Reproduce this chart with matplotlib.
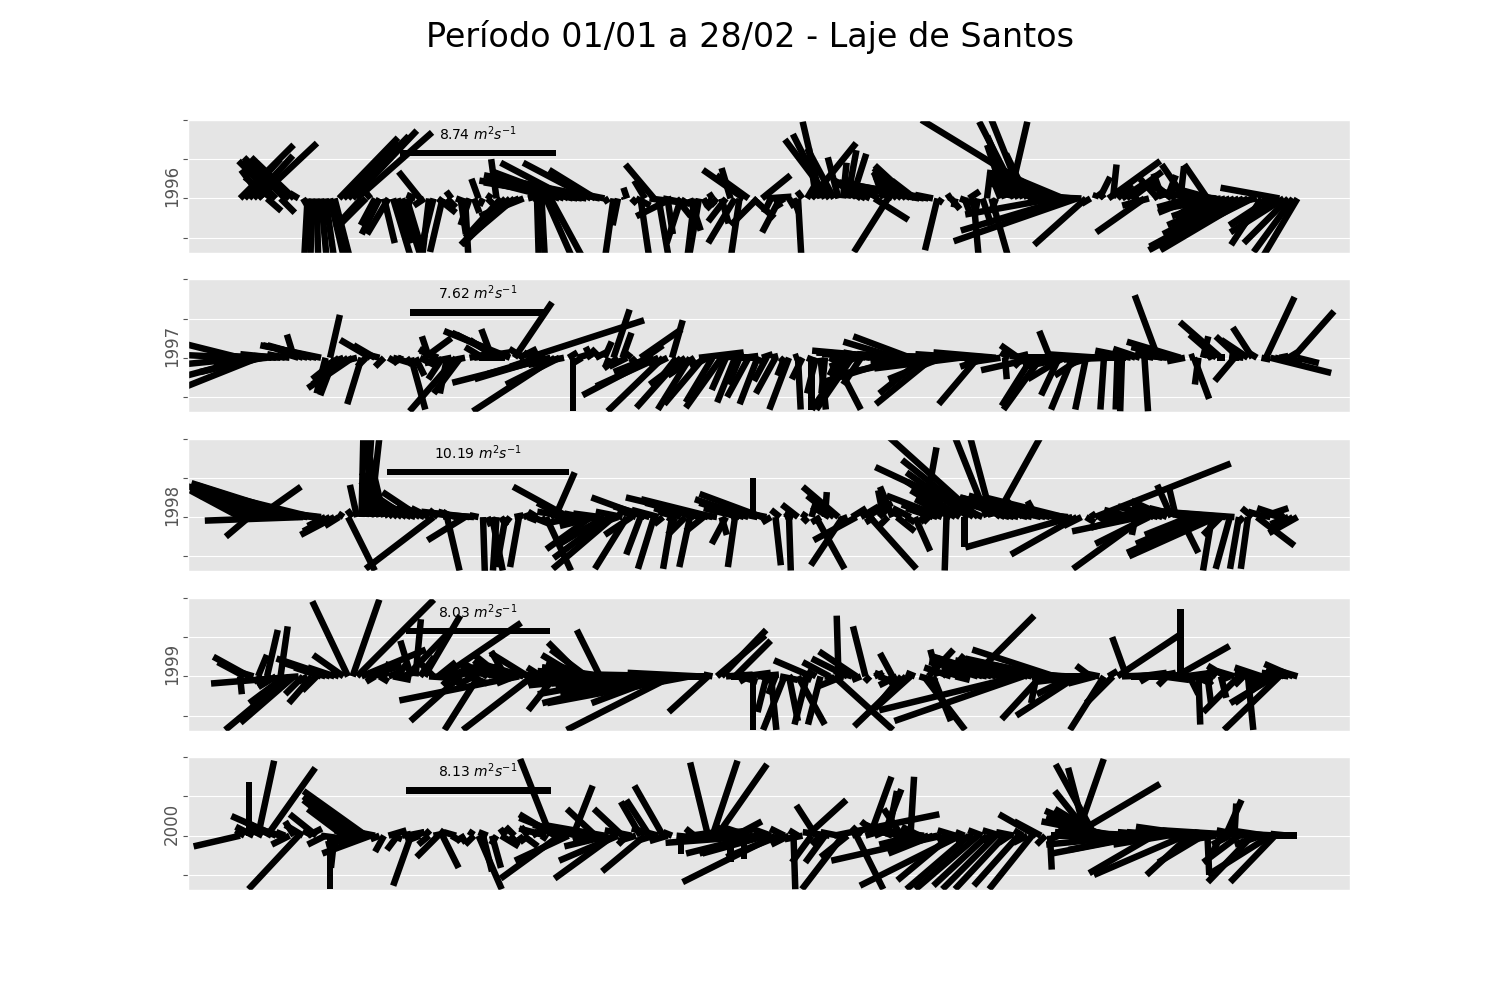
import numpy as np
import matplotlib.pyplot as plt

plt.style.use('ggplot')

years = ['1996', '1997', '1998', '1999', '2000']
key_values = [8.74, 7.62, 10.19, 8.03, 8.13]  # m2 s-1, shown in each key

# 6-hourly stick components, one row = one day (00, 06, 12, 18 h)
u_1996 = [3.0, 2.0, 1.0, 2.2, 3.3, -1.2, 0.8, -1.5, -2.1, 0.8, -2.3, -2.6,
          -2.4, -0.5, 0.3, -0.2, -0.1, 0.1, 0.3, 0.5, 0.8, 0.9, 3.3, 3.1,
          3.4, 3.6, 4.2, -1.2, -1.7, -0.4, -0.8, -1.0, 0.6, -1.2, 1.0, 0.8,
          1.1, 0.9, -0.4, -0.5, -1.2, -0.6, -0.4, -0.8, 1.0, -0.7, 0.5, -0.3,
          0.8, 0.3, 0.2, -0.5, 0.3, -0.4, -0.2, 0.3, -0.3, -0.3, -2.0, -2.5,
          -2.7, -2.6, -2.2, -1.5, 0.8, 1.5, 0.1, 0.2, 1.5, 1.9, -3.5, -3.8,
          -4.0, -3.8, -4.5, -5.0, -5.5, -6.0, -3.8, -2.6, -6.5, -1.5, -0.3, -0.5,
          -0.3, 0.1, -0.2, 0.3, 0.8, 0.5, -0.6, 1.6, -1.6, 0.6, 1.5, 0.3,
          -2.0, 0.8, -0.8, -0.3, 0.6, -0.4, -0.6, 0.2, 0.4, -0.2, -0.6, 0.4,
          -1.0, -0.5, -1.5, -0.5, -2.3, -1.8, 1.2, -1.5, 1.6, 1.4, -0.4, 0.3,
          -1.0, -0.5, 0.3, 0.3, 0.2, -0.3, 0.6, 2.5, -0.4, -1.0, -1.8, -2.5,
          -1.5, -0.6, 0.2, 0.5, 0.8, -0.3, -1.0, -1.5, -2.0, 1.9, -1.5, -0.5,
          -1.9, -1.0, -1.2, -1.6, -1.8, -2.0, -1.3, -3.5, -4.2, -5.0, -1.0, -0.7,
          -0.2, 0.3, 0.5, -0.1, 0.8, 0.3, 0.6, 0.3, -0.2, 0.5, 0.2, 1.0,
          -0.3, -0.6, -1.0, 1.0, -1.5, -2.2, -1.8, -1.2, -2.0, -2.5, -3.0, -2.4,
          -7.2, -5.0, -3.5, -2.4, -6.0, -4.0, -6.9, -3.0, -2.9, -0.5, 0.1, 0.6,
          -0.3, 2.9, 0.2, 0.8, 1.2, 2.0, 0.8, -0.3, -0.5, -2.7, -1.5, 0.3,
          -1.0, -0.5, 0.5, -1.2, -1.5, 0.2, -1.3, -1.8, -2.0, -2.3, -1.5, -1.3,
          -2.2, -2.5, -2.8, -3.0, -3.5, -4.0, -5.0, -5.3, -4.9, -4.0, -3.0, -1.7,
          -1.5, -2.3, -2.5, -3.3, -3.0, -2.5, -2.2, -1.9]
v_1996 = [3.0, 2.2, 1.2, 2.4, 3.1, 1.6, -0.7, 1.2, 2.1, -0.8, 2.3, 2.1,
          2.3, 0.3, -0.5, -3.6, -3.7, -3.6, -3.2, -3.5, -3.4, -3.5, 3.4, 3.1,
          3.5, 3.8, 3.7, -1.3, -1.7, 0.5, -1.5, -2.0, -2.5, -2.0, -3.3, -2.5,
          -3.4, -3.0, -1.0, 0.2, 1.5, -0.4, -3.4, -3.2, -0.8, -3.0, -0.5, 0.4,
          -0.3, -2.0, -3.5, -1.5, -0.8, 1.1, -0.4, -0.3, 0.2, 2.2, -2.2, -2.6,
          -2.6, -2.2, -1.0, -0.6, 0.2, 0.2, -3.5, -3.6, -3.4, -3.5, 0.9, 1.2,
          1.5, 2.0, 1.2, 0.9, 0.9, 1.0, 2.0, 1.6, 1.3, 0.3, -0.2, -3.5,
          -1.5, 0.1, 0.6, -0.3, -0.4, -3.4, 1.0, -0.2, 1.9, -3.5, -0.3, -2.0,
          -1.0, -1.0, -2.5, -0.5, -1.8, -3.3, -3.5, -0.4, -0.4, 0.3, -0.6, -1.4,
          -1.3, 1.7, -2.5, -3.4, 1.6, 1.3, -1.1, -1.5, 1.3, 0.1, -0.8, -0.5,
          -1.9, -0.3, -0.5, -0.8, -3.5, 0.4, 1.0, 3.1, 2.8, 4.3, 3.6, 3.3,
          2.8, 2.3, 2.0, 2.7, 2.5, 0.9, 0.7, 0.8, 1.0, -1.2, 0.8, 1.4,
          -3.0, 0.6, 1.2, 1.5, 1.7, 1.85, 1.0, 0.6, 0.8, 0.9, 0.2, -2.9,
          -0.3, 0.2, -0.6, -0.5, -0.3, -0.8, 0.4, -3.4, -1.0, -1.5, 1.6, -3.5,
          -0.8, 1.5, 3.0, 4.3, 3.5, 4.3, 4.5, 2.5, 1.5, 1.1, 0.9, 1.0,
          4.4, -0.9, 0.5, 1.0, -1.8, 0.4, -2.4, 0.1, -2.6, -0.3, 0.3, 1.2,
          0.4, 2.1, 1.9, 0.8, 0.8, 1.5, 0.6, 0.3, -0.3, -1.9, -0.4, 0.2,
          1.1, 1.4, 1.3, 1.0, 0.8, 1.8, 1.9, -0.5, -0.8, 0.4, -1.0, 1.9,
          0.6, 0.2, -0.5, -1.0, -1.5, -2.0, -2.7, -2.9, -2.9, -2.0, -0.5, -2.6,
          -1.8, -1.5, -1.5, 0.6, -1.9, -2.5, -3.0, -3.2]

u_1997 = [-4.0, -4.5, -5.0, -4.5, -4.0, -3.5, -3.0, -2.5, -2.0, -1.5, -1.0, -0.8,
          -0.4, -1.0, -1.5, -2.0, -2.5, -3.0, -3.4, -0.5, 0.55, -0.8, -1.5, -1.0,
          -2.0, -2.5, -1.2, -0.8, -0.5, -1.7, -1.2, -0.8, -0.5, 0.5, 1.0, 0.3,
          -0.5, 0.3, 0.8, 0.5, 1.0, 1.5, -0.4, -0.8, -1.0, -0.8, -0.4, -1.5,
          -2.6, -1.5, -1.0, 1.0, 2.0, 1.5, -1.0, 0.5, -0.6, -1.5, -2.5, -3.0,
          -3.7, 2.1, 1.0, -0.8, 6.5, -0.5, -1.5, -3.0, -4.0, -5.5, -4.6, -3.0,
          -2.0, 0.5, 0.0, 1.0, -0.5, 0.3, -0.3, 0.6, -0.5, 0.4, -0.2, 0.9,
          -0.8, 0.5, -1.0, -0.5, -0.3, 2.3, 1.0, -2.0, -4.0, -3.5, -3.1, -1.0,
          0.6, -0.7, -2.5, -2.0, -1.8, -1.5, 2.5, -2.2, -1.0, -1.5, 1.5, -2.0,
          -0.8, 1.3, -1.0, -0.6, 0.8, -1.2, 0.5, -1.0, 0.6, -0.7, 0.4, -1.1,
          0.3, -0.4, -1.1, 0.3, 0.15, -0.6, 0.5, 0.0, -0.5, 0.3, -0.2, 1.0,
          1.5, -0.5, -1.0, -2.0, -2.0, -1.5, -1.0, -0.8, -1.5, -2.5, -3.0, -3.5,
          -4.0, -4.5, -3.0, -4.5, -5.0, -3.2, -5.2, -4.8, -2.5, -4.0, -3.2, -4.5,
          -3.0, -4.0, -4.5, -5.0, -4.8, -4.5, -3.0, -2.5, -2.2, -2.0, -1.5, -3.0,
          -3.5, -2.0, 0.1, -0.5, 0.8, -1.0, -0.5, -1.0, -1.7, -3.1, -2.1, -1.0,
          -0.6, -1.5, -1.0, -2.0, -2.5, -1.2, -2.5, -1.5, -0.6, -1.0, -2.0, -3.0,
          -0.2, -2.5, -3.0, -0.1, -0.1, -2.5, -2.0, -0.5, -1.5, 0.2, -0.5, -1.0,
          -1.3, -1.5, -1.0, -2.0, -2.5, -3.0, -1.0, 0.3, 0.85, -0.2, 0.3, 0.5,
          -0.5, -1.5, -2.3, -0.5, 0.5, -1.1, -1.3, -0.8, -1.5, -1.1, -0.5, 0.5,
          1.6, 3.4, 1.5, 0.5, 1.0, 0.5, 2.3, 1.2]
v_1997 = [1.0, 0.2, -0.5, -1.2, -1.6, -0.8, -0.3, 0.1, 0.2, 0.1, 0.2, 0.1,
          1.3, 0.3, 0.5, 0.6, 0.7, 0.7, 0.7, -2.0, 2.4, -2.1, -1.2, -0.4,
          -1.5, -1.7, -0.3, -2.6, -0.5, 1.0, 0.7, 0.2, -0.5, -0.3, -0.3, -0.1,
          -0.3, -0.4, -2.9, -1.0, -0.5, 1.1, 1.2, 0.5, 0.4, -1.2, -2.0, -0.3,
          -3.0, -2.0, -0.2, 0.2, 0.3, 0.0, 0.6, 0.2, 1.6, 1.0, 1.3, 1.4,
          1.5, 3.1, 0.5, 0.5, 2.1, 0.3, -0.5, -0.9, -1.2, -1.4, -3.0, -1.5,
          -0.4, 0.3, -3.0, 0.3, -0.3, 0.2, 0.6, 0.3, 0.5, 0.9, -0.5, 2.7,
          -0.6, 1.4, -0.5, 0.4, -0.3, 1.6, 0.7, -0.8, -2.1, -1.6, -3.0, -0.5,
          2.1, -0.9, -2.8, -1.5, -2.9, -1.0, 0.3, -2.6, -0.5, -2.5, 0.1, -2.8,
          -1.8, 0.0, -2.5, -1.5, 0.1, -2.2, -0.2, -2.6, 0.2, -1.3, 0.1, -2.0,
          -0.3, -1.0, -2.9, 0.1, -2.9, -1.2, -0.2, -2.9, -2.0, -2.9, -2.0, -0.5,
          -2.9, -1.0, -2.0, -2.9, -2.9, -0.5, -1.5, 0.2, 0.3, 0.2, 0.3, 0.3,
          0.3, 0.4, 0.9, -1.4, 0.3, 1.2, 0.2, -1.0, -2.0, 0.1, -2.6, 0.2,
          -1.2, 0.0, -0.3, 0.1, -0.6, 0.1, 0.2, 0.0, -2.6, 0.1, -0.5, 0.2,
          0.3, -0.3, -1.2, 0.3, 0.2, 0.7, -0.5, 0.1, -2.7, -0.7, -2.9, -0.5,
          1.5, 0.0, -2.1, -1.2, -0.5, -2.9, -0.2, -1.0, -2.9, -0.3, 0.0, 0.2,
          -2.9, -0.1, 0.0, -2.9, -3.0, 0.0, 0.4, 0.2, 0.5, -3.0, 0.3, 0.2,
          3.5, 0.3, 0.1, 0.4, 0.6, 0.9, -0.2, 0.1, -2.3, -1.5, 1.2, 0.2,
          0.3, 1.3, 2.0, 0.0, 0.0, -1.3, 1.2, 0.1, 1.0, 1.7, 0.3, -0.1,
          3.4, -0.85, -0.3, 0.1, -0.2, 0.3, 2.6, -0.3]

u_1998 = [-2.8, -2.0, -1.3, -1.5, 2.4, -2.5, -3.5, -4.0, -3.5, -4.5, -4.2, -5.0,
          -5.5, -6.0, -5.5, -4.0, -7.3, -4.0, -2.5, -1.0, -1.5, -1.9, -0.8, -0.3,
          1.5, -0.3, -0.4, 0.1, 0.3, 0.5, -0.6, -0.8, -1.0, -1.5, -1.8, -2.0,
          -2.1, -1.8, -2.0, -2.1, -2.1, -1.5, -1.0, -3.8, -0.5, 0.3, 0.7, -0.5,
          -1.0, -1.5, -2.1, -2.7, -1.5, -0.5, 0.1, 0.2, 0.6, -0.2, 0.3, -0.5,
          -0.3, 0.5, -0.5, 0.3, 0.5, 1.0, -0.5, 0.2, 1.4, 0.5, 1.1, -0.8,
          -1.5, -3.1, -2.0, -1.5, -1.0, -0.5, -2.5, -2.0, -1.5, -2.5, -3.1, -3.4,
          -2.0, -1.5, -1.8, -1.5, -1.0, -0.8, -3.0, -2.0, -0.9, -1.5, -0.5, 0.5,
          -0.5, -1.0, -1.5, -1.0, -0.6, -2.0, -3.0, -1.0, -4.6, -4.0, -2.0, 0.3,
          -0.8, 0.5, -0.4, -2.0, -2.5, -3.0, 0.0, -0.5, -3.5, -1.5, -0.5, 0.3,
          -0.5, 0.5, 0.1, -0.5, -0.9, 0.3, -0.3, 0.3, 1.6, -0.5, 0.1, -1.0,
          -1.5, -2.0, -1.8, -0.5, 0.8, -2.4, 1.0, 1.5, 2.6, -0.5, 0.5, -0.3,
          -0.5, -0.7, 1.0, -0.5, 0.5, -1.0, 0.85, 0.3, 0.7, -0.3, -1.5, -2.0,
          -3.1, -0.1, -2.0, -2.5, -3.0, 0.0, -3.5, -4.0, -5.0, -6.0, -1.8, -1.2,
          2.5, -1.5, -2.0, -2.5, -3.0, -3.5, -1.0, -3.8, -4.0, -0.5, -4.2, -4.3,
          -4.5, -4.4, -4.0, -4.4, -3.0, -6.0, -3.7, -1.0, 0.5, 0.3, 7.6, 0.5,
          1.5, 2.0, -0.5, 1.0, -1.0, -2.0, -1.5, -0.2, -3.8, -4.0, -3.0, -2.0,
          -1.0, -1.5, -2.0, -0.8, -0.4, 1.0, -2.0, -2.5, -3.0, -3.5, -4.0, -4.5,
          -0.5, -4.9, -1.0, -5.0, -0.8, -5.4, -0.5, -0.3, -0.4, -0.6, 2.1, 1.5,
          -1.0, -0.5, 0.5, -1.0, -1.5, -1.0, -1.3, -1.6]
v_1998 = [1.5, 1.0, -1.1, 0.6, 1.7, 0.9, 1.3, 1.2, 0.9, 1.5, 1.0, 1.5,
          1.8, 1.9, -0.2, 0.5, 1.8, 0.3, 0.3, -0.5, -0.8, -1.0, -0.5, 0.2,
          -3.0, 0.4, 1.8, 4.5, 4.6, 4.5, 4.5, 3.5, 4.2, 2.5, 2.0, 1.8,
          1.6, 1.2, 1.0, 0.8, 1.4, 0.7, 0.5, -2.9, 0.4, 0.1, -3.0, 0.3,
          0.3, 0.2, -1.3, 0.3, 0.1, 0.1, -3.1, -0.5, -3.0, -3.0, -0.5, -2.8,
          -0.4, 0.1, -2.8, 0.1, -0.2, -0.4, 0.3, -0.3, -3.0, 0.3, 2.5, 0.3,
          0.8, 1.7, 0.3, -0.3, 0.2, -0.2, -1.8, -0.5, 0.2, -1.5, -2.3, -2.9,
          -0.7, 0.3, -2.9, -1.0, 0.4, -2.1, 1.1, 0.6, -2.9, 0.4, -0.4, -0.3,
          -2.9, 0.3, 0.5, -1.0, -2.8, 0.6, 0.8, -0.8, 1.1, 1.0, 0.3, -1.0,
          -1.5, 0.2, -2.8, 0.5, 0.8, 1.0, 2.2, 0.1, 1.3, 0.3, -0.3, -2.7,
          0.4, 0.2, -3.0, 0.2, 0.7, -0.3, 0.2, 1.0, -2.9, -0.3, 1.4, 0.6,
          1.2, 1.7, -2.7, -0.2, 0.5, -1.3, 0.6, 0.8, -2.9, -0.3, 0.5, 1.5,
          -0.5, 1.7, -0.8, 0.3, -0.3, 0.5, -1.9, -0.3, 3.9, -0.3, 0.5, 0.7,
          1.2, -3.0, 1.0, 1.5, 2.0, -1.7, 2.5, 3.2, 4.5, 2.8, 4.5, 4.5,
          4.5, 1.2, 1.0, 0.8, 0.9, 1.0, 1.0, 1.1, 1.1, 0.9, 1.0, 1.2,
          1.1, 1.0, 0.8, 1.1, 0.3, -1.7, -2.1, -0.5, -0.3, 0.2, 3.0, -0.3,
          0.1, 0.2, 0.3, 0.3, 0.2, -0.6, 0.4, -1.0, -0.8, -2.9, -1.5, 0.6,
          0.3, 0.5, 0.9, 1.8, 1.7, -2.0, 0.5, -1.0, 0.5, -1.5, 0.5, -2.0,
          -3.0, -2.2, -1.0, 0.4, -2.9, 0.4, -2.9, -0.3, -2.9, 0.5, -1.6, 0.5,
          0.3, 0.1, 0.2, 0.3, 0.5, -0.4, -0.8, -0.9]

u_1999 = [0.1, -1.5, -2.0, -1.0, 0.5, -0.5, 0.6, -0.8, -1.0, 0.4, -2.0, -3.6,
          -3.0, -4.9, -1.0, -0.5, -1.3, -0.8, -1.5, -2.5, -3.0, -1.5, -0.5, -1.7,
          -2.0, 1.5, 4.3, 3.6, 2.0, 1.0, -0.5, 0.5, 0.3, 0.8, 1.0, 0.5,
          0.6, 2.5, -0.6, 0.3, 0.8, 2.0, 1.5, -0.8, 1.0, 4.4, 1.8, -0.5,
          1.5, -2.8, 2.0, 1.0, -1.0, -1.9, 0.8, -1.5, -1.0, -2.0, -1.5, -0.8,
          -2.5, -1.0, -6.7, -2.0, -2.1, -3.9, -1.5, -0.8, -1.0, -0.5, -1.5, -1.0,
          -1.2, -1.5, -0.8, -2.0, -1.9, -2.0, -2.5, -3.0, -1.3, -3.5, -4.0, -4.5,
          -5.0, -4.0, -3.5, -4.5, -5.5, -4.0, -5.0, -6.0, -5.5, -6.0, -4.0, -5.0,
          -5.9, -6.5, -7.0, -5.0, -8.0, -5.5, -4.0, -2.5, -2.2, -0.5, 2.7, 2.5,
          1.5, 1.0, 2.0, 1.0, 1.5, -0.5, 0.0, 1.2, 0.6, -0.5, 0.3, -0.4,
          1.0, -1.2, 0.5, -0.3, 1.5, 0.5, -0.7, -2.1, -0.5, -0.7, 0.5, -1.5,
          3.3, -0.1, -1.5, -2.0, -1.0, -2.1, -0.5, -0.7, -0.3, 0.5, 1.0, -0.5,
          0.3, -0.7, -1.0, -1.5, -2.9, -2.0, -0.5, 1.0, 2.3, 1.4, 1.0, -0.4,
          0.5, 1.0, -1.5, 0.8, -1.0, -1.3, -1.5, 3.4, -2.0, -2.5, -2.0, -3.0,
          -3.5, -4.0, -3.0, -3.5, -4.0, -7.8, -7.2, -4.0, -4.3, -0.3, -2.2, -4.5,
          -4.0, -4.6, -4.2, -3.5, -4.0, -2.0, -3.4, -2.5, -3.0, -0.8, -1.5, -1.0,
          -1.9, 0.5, -1.5, 3.6, 3.0, -0.8, 1.0, 2.0, 1.5, 2.5, -0.5, 0.8,
          1.0, 1.5, -0.5, 0.5, 3.0, 0.0, 1.5, 0.5, 1.0, 0.1, 0.5, 0.2,
          -0.3, -0.5, 0.3, -1.0, -0.5, -1.0, -2.0, -0.5, 0.3, -1.0, -0.5, -1.5,
          -1.0, -2.0, -2.5, -3.1, -1.0, -1.5, -1.6, -1.0]
v_1999 = [-1.0, 0.8, 1.1, 0.3, 1.2, -0.3, 2.6, -0.5, -0.6, 2.8, -1.5, -3.0,
          -2.6, -0.4, -1.0, -0.3, -1.5, -0.8, 0.5, 0.8, 1.0, 0.5, 0.2, 1.2,
          4.2, 4.3, 4.3, 1.5, 0.6, 0.2, -0.3, -0.3, 0.8, 0.3, -0.2, 0.7,
          0.2, 2.6, 2.0, 3.2, 1.1, 3.4, -0.1, 0.8, 0.8, 3.0, 0.6, -0.5,
          0.5, -2.5, 0.4, -0.4, -0.5, -3.0, 0.6, 0.8, 0.9, 0.5, 1.2, 1.4,
          0.3, -0.4, -1.35, 0.6, 1.3, -3.0, 0.2, 0.5, -0.5, 0.3, -1.9, -0.6,
          -0.3, 0.3, -0.2, 1.2, 1.9, 1.5, 0.8, 0.5, 2.6, 0.5, 0.3, -0.2,
          -0.5, 0.0, -0.8, 0.1, -1.0, -0.3, -0.6, -1.5, 0.1, -0.4, -1.5, 0.0,
          -3.0, -1.0, -0.5, 0.1, -1.5, -0.1, 0.2, 0.0, -2.0, 0.1, 2.3, 2.6,
          0.1, 0.0, 2.0, -0.3, 0.2, -0.3, -3.0, 0.1, -0.3, -2.0, -3.0, -1.0,
          -0.2, -3.0, -2.5, -0.2, -2.7, -0.2, -2.7, 0.9, 0.3, -2.7, -0.1, 0.8,
          -3.0, 3.4, -0.6, 1.0, 0.3, 1.4, -0.2, 2.8, -0.3, 0.2, -0.4, 0.2,
          -0.5, 1.3, -0.5, -1.8, -2.8, -1.8, 0.2, -0.3, -3.0, 1.5, -2.5, 1.5,
          0.5, 1.2, 0.5, -0.2, 0.3, 0.8, 0.5, 3.4, 0.6, 1.0, 0.4, 1.0,
          1.1, 0.8, 0.4, 0.5, 0.8, -1.9, -2.5, 0.6, 0.9, -1.5, -2.4, 1.0,
          0.8, 1.5, 0.5, 0.2, 0.2, -1.0, -2.2, -0.3, 0.0, 0.6, -0.4, 0.2,
          -3.0, 0.3, -1.5, 2.4, 0.1, 2.2, 0.0, 0.1, 0.2, 0.0, -0.3, 0.1,
          0.2, -0.2, -0.5, 0.1, 1.7, 3.8, 0.2, -1.0, -0.4, -2.7, -0.5, -1.5,
          -0.3, 0.4, -1.2, 0.6, -0.2, 0.3, -2.0, -0.5, -3.0, 0.2, -0.2, 0.5,
          -0.5, -1.5, -1.5, -3.0, 0.4, 0.2, 0.7, 0.3]

u_2000 = [-2.6, -0.5, 0.0, -1.0, 0.9, -0.8, 2.7, -1.5, -2.5, -1.0, -0.5, -1.0,
          -0.5, -2.8, -1.0, 0.8, -0.5, -1.5, 1.5, -1.0, 0.0, -0.2, 0.5, -2.0,
          -2.5, -1.0, -3.0, -2.0, -3.5, -2.7, -1.5, -0.5, -0.5, 1.0, 0.5, -0.6,
          0.5, 1.0, -1.0, 0.5, -0.8, 0.3, -0.6, 0.5, -1.2, 0.9, -0.4, 0.5,
          -0.7, 0.3, -0.5, 0.2, -0.5, 1.3, 0.5, -0.5, 0.5, -0.3, 1.0, -0.3,
          0.5, -0.5, 0.3, 0.8, -0.4, 0.5, -0.2, 0.3, -1.5, -1.7, -2.0, -3.3,
          -2.5, -3.0, 1.1, -2.0, -2.5, -3.0, -1.0, -1.6, -2.0, -3.4, -2.5, -3.3,
          -3.3, -1.6, -0.5, -1.5, -1.0, -1.1, -2.4, -1.3, -1.0, -1.5, -1.6, -1.0,
          -0.5, 1.0, 0.0, 2.0, 1.5, -0.5, 3.0, 2.5, -1.0, 1.4, 2.8, 0.5,
          -0.5, 0.0, 1.5, -1.0, 0.0, -1.5, -3.0, -4.0, -5.4, -3.6, -1.1, -5.2,
          -3.0, -0.8, -1.0, 0.1, -0.5, -1.0, 2.2, -1.1, -1.1, -0.5, -1.1, -1.5,
          5.9, -1.0, -2.3, -1.5, 0.5, 1.5, -0.5, 1.0, 1.2, 0.5, -1.0, 1.0,
          0.5, -1.5, -0.5, -1.0, -1.5, 0.2, -2.0, -1.0, -2.5, -1.5, -2.5, -1.0,
          -6.2, -0.5, -3.0, -1.0, -5.6, -0.5, -3.5, -1.0, -3.5, -0.8, -3.0, -0.5,
          -3.0, -1.0, -2.8, -0.6, -1.0, -2.5, -0.5, -0.8, -2.4, -2.1, -1.5, -0.5,
          0.1, 0.5, -0.5, -0.3, 1.0, 4.9, 1.5, -1.5, -1.0, -2.0, -2.2, -2.5,
          -3.3, -3.5, -4.0, -3.0, -3.5, -4.0, -4.5, -5.0, -4.0, -5.2, -3.0, -3.6,
          -3.0, -2.5, -3.0, -2.0, -2.5, -3.0, -5.1, -2.4, -2.0, -3.5, -2.5, 0.1,
          -1.0, -2.0, -0.5, 0.9, -1.0, 0.1, -2.0, -1.5, -4.8, -2.5, -2.0, -1.5,
          -2.0, -3.5, -2.5, -2.0, -1.5, -1.0, -2.0, -1.5]
v_2000 = [-0.6, 0.3, 3.0, 0.5, 4.2, 0.4, 3.8, 0.8, 1.1, 0.3, 0.2, -0.5,
          0.8, -3.0, 0.6, 0.4, 0.3, 1.2, -0.2, -0.5, -3.0, -1.8, 0.4, 1.5,
          2.0, 0.3, 2.2, -0.5, 2.5, -1.0, 0.3, -0.2, -0.9, 0.3, -0.2, -0.8,
          0.1, 0.2, -2.8, 0.2, -0.3, 0.3, -0.5, 0.1, -1.2, -1.8, 0.3, -0.3,
          0.2, -0.4, -0.3, 0.3, -0.5, -3.0, -2.0, 0.2, -1.8, -0.5, -0.6, 0.4,
          -0.5, 0.5, -0.4, -0.6, 0.5, 0.3, 0.3, -0.2, 0.4, 4.3, 1.2, -2.4,
          1.0, -1.4, 2.8, 0.5, 0.4, 0.6, -0.3, 1.5, 0.2, 0.6, -0.6, -2.4,
          -1.4, 1.5, -0.5, 0.3, -0.3, 1.9, -2.0, 2.0, -0.3, 0.4, 2.8, -0.3,
          0.2, -0.1, -1.0, -0.2, 0.2, 0.4, 0.3, 0.2, 4.1, 4.2, 4.0, -0.3,
          0.5, -1.5, 0.8, 0.3, -1.3, 0.5, -1.0, -1.0, -0.4, -1.0, 0.4, -2.6,
          -1.2, 0.4, -0.5, -3.0, 0.3, -0.2, 2.0, -1.5, 1.7, -0.5, -1.5, 0.2,
          1.2, 0.2, -3.0, -1.2, 0.2, -3.0, 0.5, 0.3, 3.3, 0.2, 0.8, 2.6,
          2.5, 0.6, 0.2, 1.5, 0.3, 3.3, -0.5, 0.5, 0.3, -0.5, -1.0, -0.2,
          -1.4, -0.3, -2.5, 0.3, -2.8, 0.2, -3.0, -0.3, -3.0, 0.3, -2.8, -0.3,
          -3.0, 0.3, -3.0, -0.4, 0.2, -2.8, 0.3, -0.4, -3.0, 1.2, 0.8, -0.5,
          -1.9, 0.3, -0.2, 0.4, 0.5, 2.9, 4.3, 1.0, 3.8, 2.5, 4.0, 1.5,
          1.4, 1.0, 0.8, 0.5, 0.3, 0.2, 0.0, -0.5, -0.8, -1.0, -0.3, -2.1,
          0.1, 0.2, -0.5, 0.3, 0.1, 0.2, -2.2, -2.2, 0.3, 0.5, -1.5, -2.2,
          0.2, -0.3, -1.0, 2.0, -0.5, 1.8, -1.5, 0.3, 0.3, -2.6, 0.2, -0.5,
          0.3, -2.2, -2.6, 0.1, 0.0, 0.1, 0.0, 0.0]

u_all = [u_1996, u_1997, u_1998, u_1999, u_2000]
v_all = [v_1996, v_1997, v_1998, v_1999, v_2000]
for uu, vv in zip(u_all, v_all):
    assert len(uu) == 236 and len(vv) == 236, (len(uu), len(vv))

# time axis in days from 01/01, one stick every 6 h
t = np.arange(236) / 4.0

fig, axes = plt.subplots(5, 1, figsize=(15, 10))
fig.suptitle('Período 01/01 a 28/02 - Laje de Santos', fontsize=24)

for ax, year, u, v, kv in zip(axes, years, u_all, v_all, key_values):
    q = ax.quiver(t, np.zeros_like(t), u, v, color='k', pivot='tail',
                  scale=5.6, scale_units='inches', units='inches', width=0.065,
                  headwidth=0, headlength=0, headaxislength=0, minlength=0.5)
    ax.quiverkey(q, 0.25, 0.75, kv, f'{kv:.2f} $m^2s^{{-1}}$',
                 labelpos='N', coordinates='axes', fontproperties={'size': 10})
    ax.set_xlim(-2.92, 61.67)
    ax.set_ylim(-1.385, 2.0)
    ax.set_yticks([-1, 0, 1, 2])
    ax.tick_params(axis='y', labelleft=False)
    ax.set_xticks([])
    ax.set_ylabel(year, labelpad=1)

fig.savefig('out.png', dpi=100)
